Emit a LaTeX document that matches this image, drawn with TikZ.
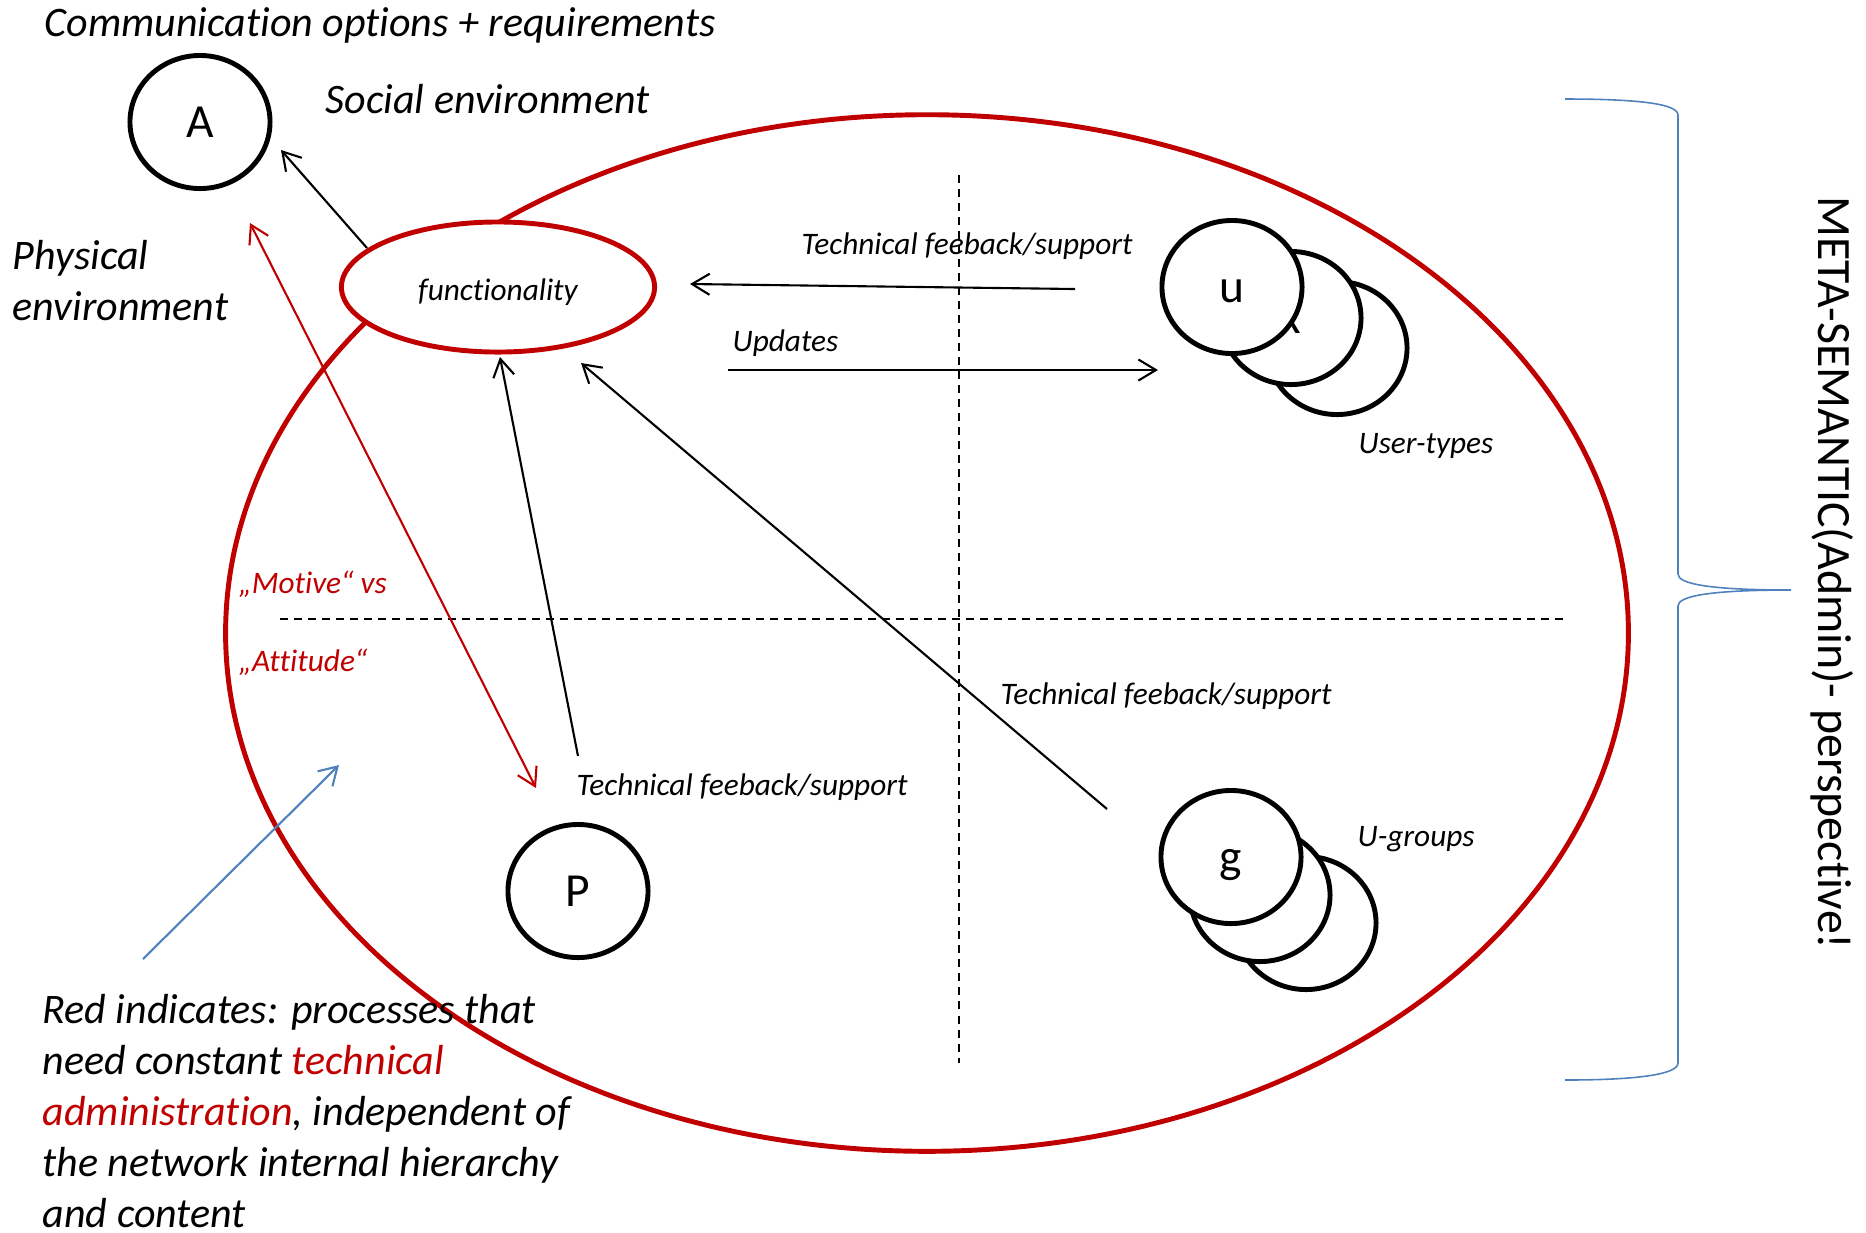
\documentclass[tikz,border=0pt]{standalone}
\usepackage{fontspec}
\setmainfont{Carlito}[Ligatures={NoCommon,NoRequired,NoContextual,NoRare}]
\usepackage{xcolor}
\definecolor{adminRed}{HTML}{C00000}
\definecolor{braceBlue}{HTML}{4F81BD}
\usepackage{tikz}
\usetikzlibrary{shapes.geometric, arrows.meta, positioning}

\begin{document}
\begin{tikzpicture}[
    x=0.01cm, y=-0.01cm,
    member/.style={
        ellipse,
        draw,
        line width=1.4pt,
        fill=white,
        minimum width=1.40cm,
        minimum height=1.33cm,
        inner sep=0pt,
        text height=10pt,
        text depth=1.2pt,
        font=\fontsize{13.5}{16}\selectfont
    },
    core/.style={
        ellipse,
        draw=adminRed,
        line width=1.4pt,
        fill=white,
        minimum width=3.13cm,
        minimum height=1.30cm,
        inner sep=0pt,
        text height=10pt,
        text depth=2.6pt,
        font=\fontsize{8.9}{10.8}\selectfont\itshape
    },
    bigtext/.style={inner sep=0pt, align=left, font=\fontsize{11.95}{14.5}\selectfont\itshape},
    smalltext/.style={inner sep=0pt, font=\fontsize{8.9}{10.8}\selectfont\itshape},
    flow/.style={-{Straight Barb[length=5pt,width=6pt]}, line width=0.6pt},
    divider/.style={dash pattern=on 0.08cm off 0.06cm, line width=0.45pt}
]
\useasboundingbox (0,0) rectangle (1866,1232);

\node[ellipse, draw=adminRed, line width=1.4pt, minimum width=14.02cm, minimum height=10.36cm, inner sep=0pt] (env) at (927,633) {};

\draw[divider] (959,175) -- (959,1063);
\draw[divider] (280,619) -- (1565,619);

\node[core] (func) at (498,287) {functionality};
\node[member] (admin) at (200,122) {A};
\node[member] (power) at (578,891) {P};

\node[member] (u3) at (1337,348) {};
\node[member] (u2) at (1291,318) {x};
\node[member] (u1) at (1232,287) {u};

\node[member] (g3) at (1306,923) {};
\node[member] (g2) at (1260,895) {};
\node[member] (g1) at (1231,857) {g};

\coordinate (fbStart) at (1075,289);
\coordinate (fbTip) at (690,284);
\coordinate (updStart) at (728,370);
\coordinate (updTip) at (1158,370);
\coordinate (pStart) at (578,756);
\coordinate (pTip) at (500,357);
\coordinate (gStart) at (1107,809);
\coordinate (gTip) at (581,363);
\coordinate (aStart) at (367,248);
\coordinate (aTip) at (281,150);
\coordinate (redTop) at (250,223);
\coordinate (redBottom) at (536,788);
\coordinate (blueStart) at (143,959);
\coordinate (blueTip) at (339,765);

\draw[flow] (fbStart) -- (fbTip);
\draw[flow] (updStart) -- (updTip);
\draw[flow] (pStart) -- (pTip);
\draw[flow] (gStart) -- (gTip);
\draw[flow] (aStart) -- (aTip);
\draw[flow, adminRed, {Straight Barb[length=5pt,width=6pt]}-{Straight Barb[length=5pt,width=6pt]}] (redTop) -- (redBottom);
\draw[flow, braceBlue] (blueStart) -- (blueTip);

\draw[braceBlue, line width=0.45pt] (1565,99) .. controls (1640,99) and (1678,104) .. (1678,115) -- (1678,574)
    .. controls (1678,584) and (1710,590) .. (1791,590)
    .. controls (1710,590) and (1678,596) .. (1678,606) -- (1678,1063)
    .. controls (1678,1074) and (1640,1080) .. (1565,1080);

\node[bigtext, anchor=base west] (comm) at (44,36) {Communication options + requirements};
\node[bigtext, anchor=base west] (social) at (325,113) {Social environment};
\node[bigtext, anchor=west] (physical) at (12,281) {Physical\\environment};
\node[bigtext, anchor=west] (legend) at (42,1111) {Red indicates: processes that\\need constant \textcolor{adminRed}{technical}\\\textcolor{adminRed}{administration}, independent of\\the network internal hierarchy\\and content};

\node[smalltext, anchor=west] (fbTop) at (801,246) {Technical feeback/support};
\node[smalltext, anchor=west] (updates) at (732,343) {Updates};
\node[smalltext, anchor=west] (usertypes) at (1358,446) {User-types};
\node[smalltext, anchor=west] (ugroups) at (1357,839) {U-groups};
\node[smalltext, anchor=west] (fbMid) at (1000,696) {Technical feeback/support};
\node[smalltext, anchor=west] (fbLow) at (576,787) {Technical feeback/support};
\node[smalltext, anchor=west, text=adminRed] (motive) at (238,584) {„Motive“ vs};
\node[smalltext, anchor=west, text=adminRed] (attitude) at (238,662) {„Attitude“};

\node[rotate=-90, anchor=base, inner sep=0pt, font=\fontsize{13.6}{16}\selectfont] (meta) at (1818,573) {META-SEMANTIC(Admin)- perspective!};
\end{tikzpicture}
\end{document}
